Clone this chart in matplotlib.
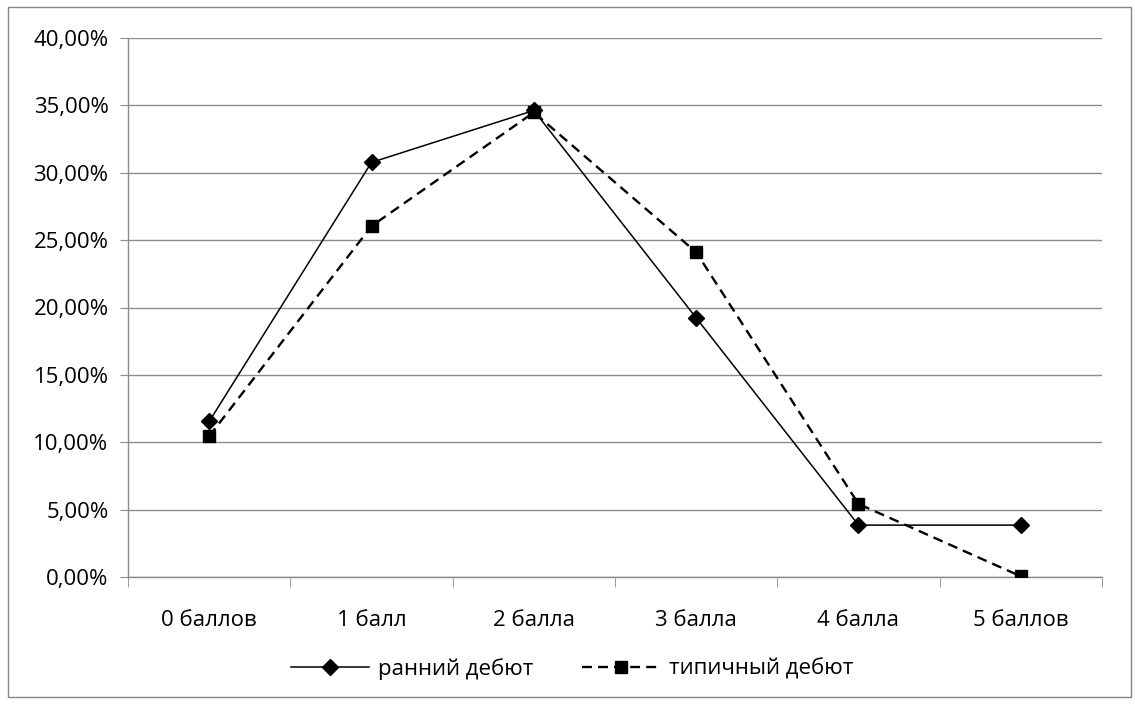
import matplotlib
matplotlib.use("Agg")
import matplotlib.pyplot as plt
from matplotlib.patches import Rectangle
from matplotlib.ticker import FuncFormatter, FixedLocator

plt.rcParams['font.family'] = ['Open Sans', 'DejaVu Sans']

categories = ["0 баллов", "1 балл", "2 балла", "3 балла", "4 балла", "5 баллов"]
early_onset = [11.54, 30.77, 34.62, 19.23, 3.85, 3.85]
typical_onset = [10.45, 26.04, 34.48, 24.10, 5.42, 0.05]
series_names = ["ранний дебют", "типичный дебют"]
y_ticks = [0, 5, 10, 15, 20, 25, 30, 35, 40]

W, H = 1135, 704
fig = plt.figure(figsize=(W / 100, H / 100), dpi=100)
FS = 16

# outer chart frame
fig.patches.append(Rectangle((8 / W, 7 / H), (1131 - 8) / W, (697 - 7) / H,
                             transform=fig.transFigure, fill=False,
                             edgecolor="#868686", linewidth=1.0))

left, right, top, bottom = 128, 1102, 38, 577
ax = fig.add_axes([left / W, 1 - bottom / H, (right - left) / W, (bottom - top) / H])

x = list(range(len(categories)))
ax.plot(x, early_onset, color="black", linewidth=1.1, marker="D", markersize=8.5,
        label=series_names[0], zorder=3)
ax.plot(x, typical_onset, color="black", linewidth=1.7, linestyle=(0, (4.2, 2.6)),
        marker="s", markersize=8.5, label=series_names[1], zorder=3)

ax.set_xlim(-0.5, len(categories) - 0.5)
ax.set_ylim(0, 40)

grid_c = "#8c8c8c"
ax.set_yticks(y_ticks)
ax.yaxis.set_major_formatter(FuncFormatter(lambda v, p: f"{v:.2f}%".replace(".", ",")))
ax.yaxis.grid(True, color=grid_c, linewidth=1.0)
ax.set_axisbelow(True)

ax.set_xticks(x)
ax.set_xticklabels(categories)
ax.xaxis.set_minor_locator(FixedLocator([i - 0.5 for i in range(len(categories) + 1)]))

ax.tick_params(axis="x", which="major", length=0, pad=24, labelsize=FS)
ax.tick_params(axis="x", which="minor", length=7, color=grid_c, direction="out")
ax.tick_params(axis="y", which="major", length=6, color=grid_c, pad=8, labelsize=FS)

for s in ("top", "right"):
    ax.spines[s].set_visible(False)
for s in ("left", "bottom"):
    ax.spines[s].set_color(grid_c)
    ax.spines[s].set_linewidth(1.0)

fig.legend(loc="center", bbox_to_anchor=(572 / W, 1 - 669 / H), ncol=2,
           frameon=False, fontsize=FS, handlelength=3.5, numpoints=1,
           columnspacing=2.2, handletextpad=0.4)

fig.savefig("out.png", dpi=100)
